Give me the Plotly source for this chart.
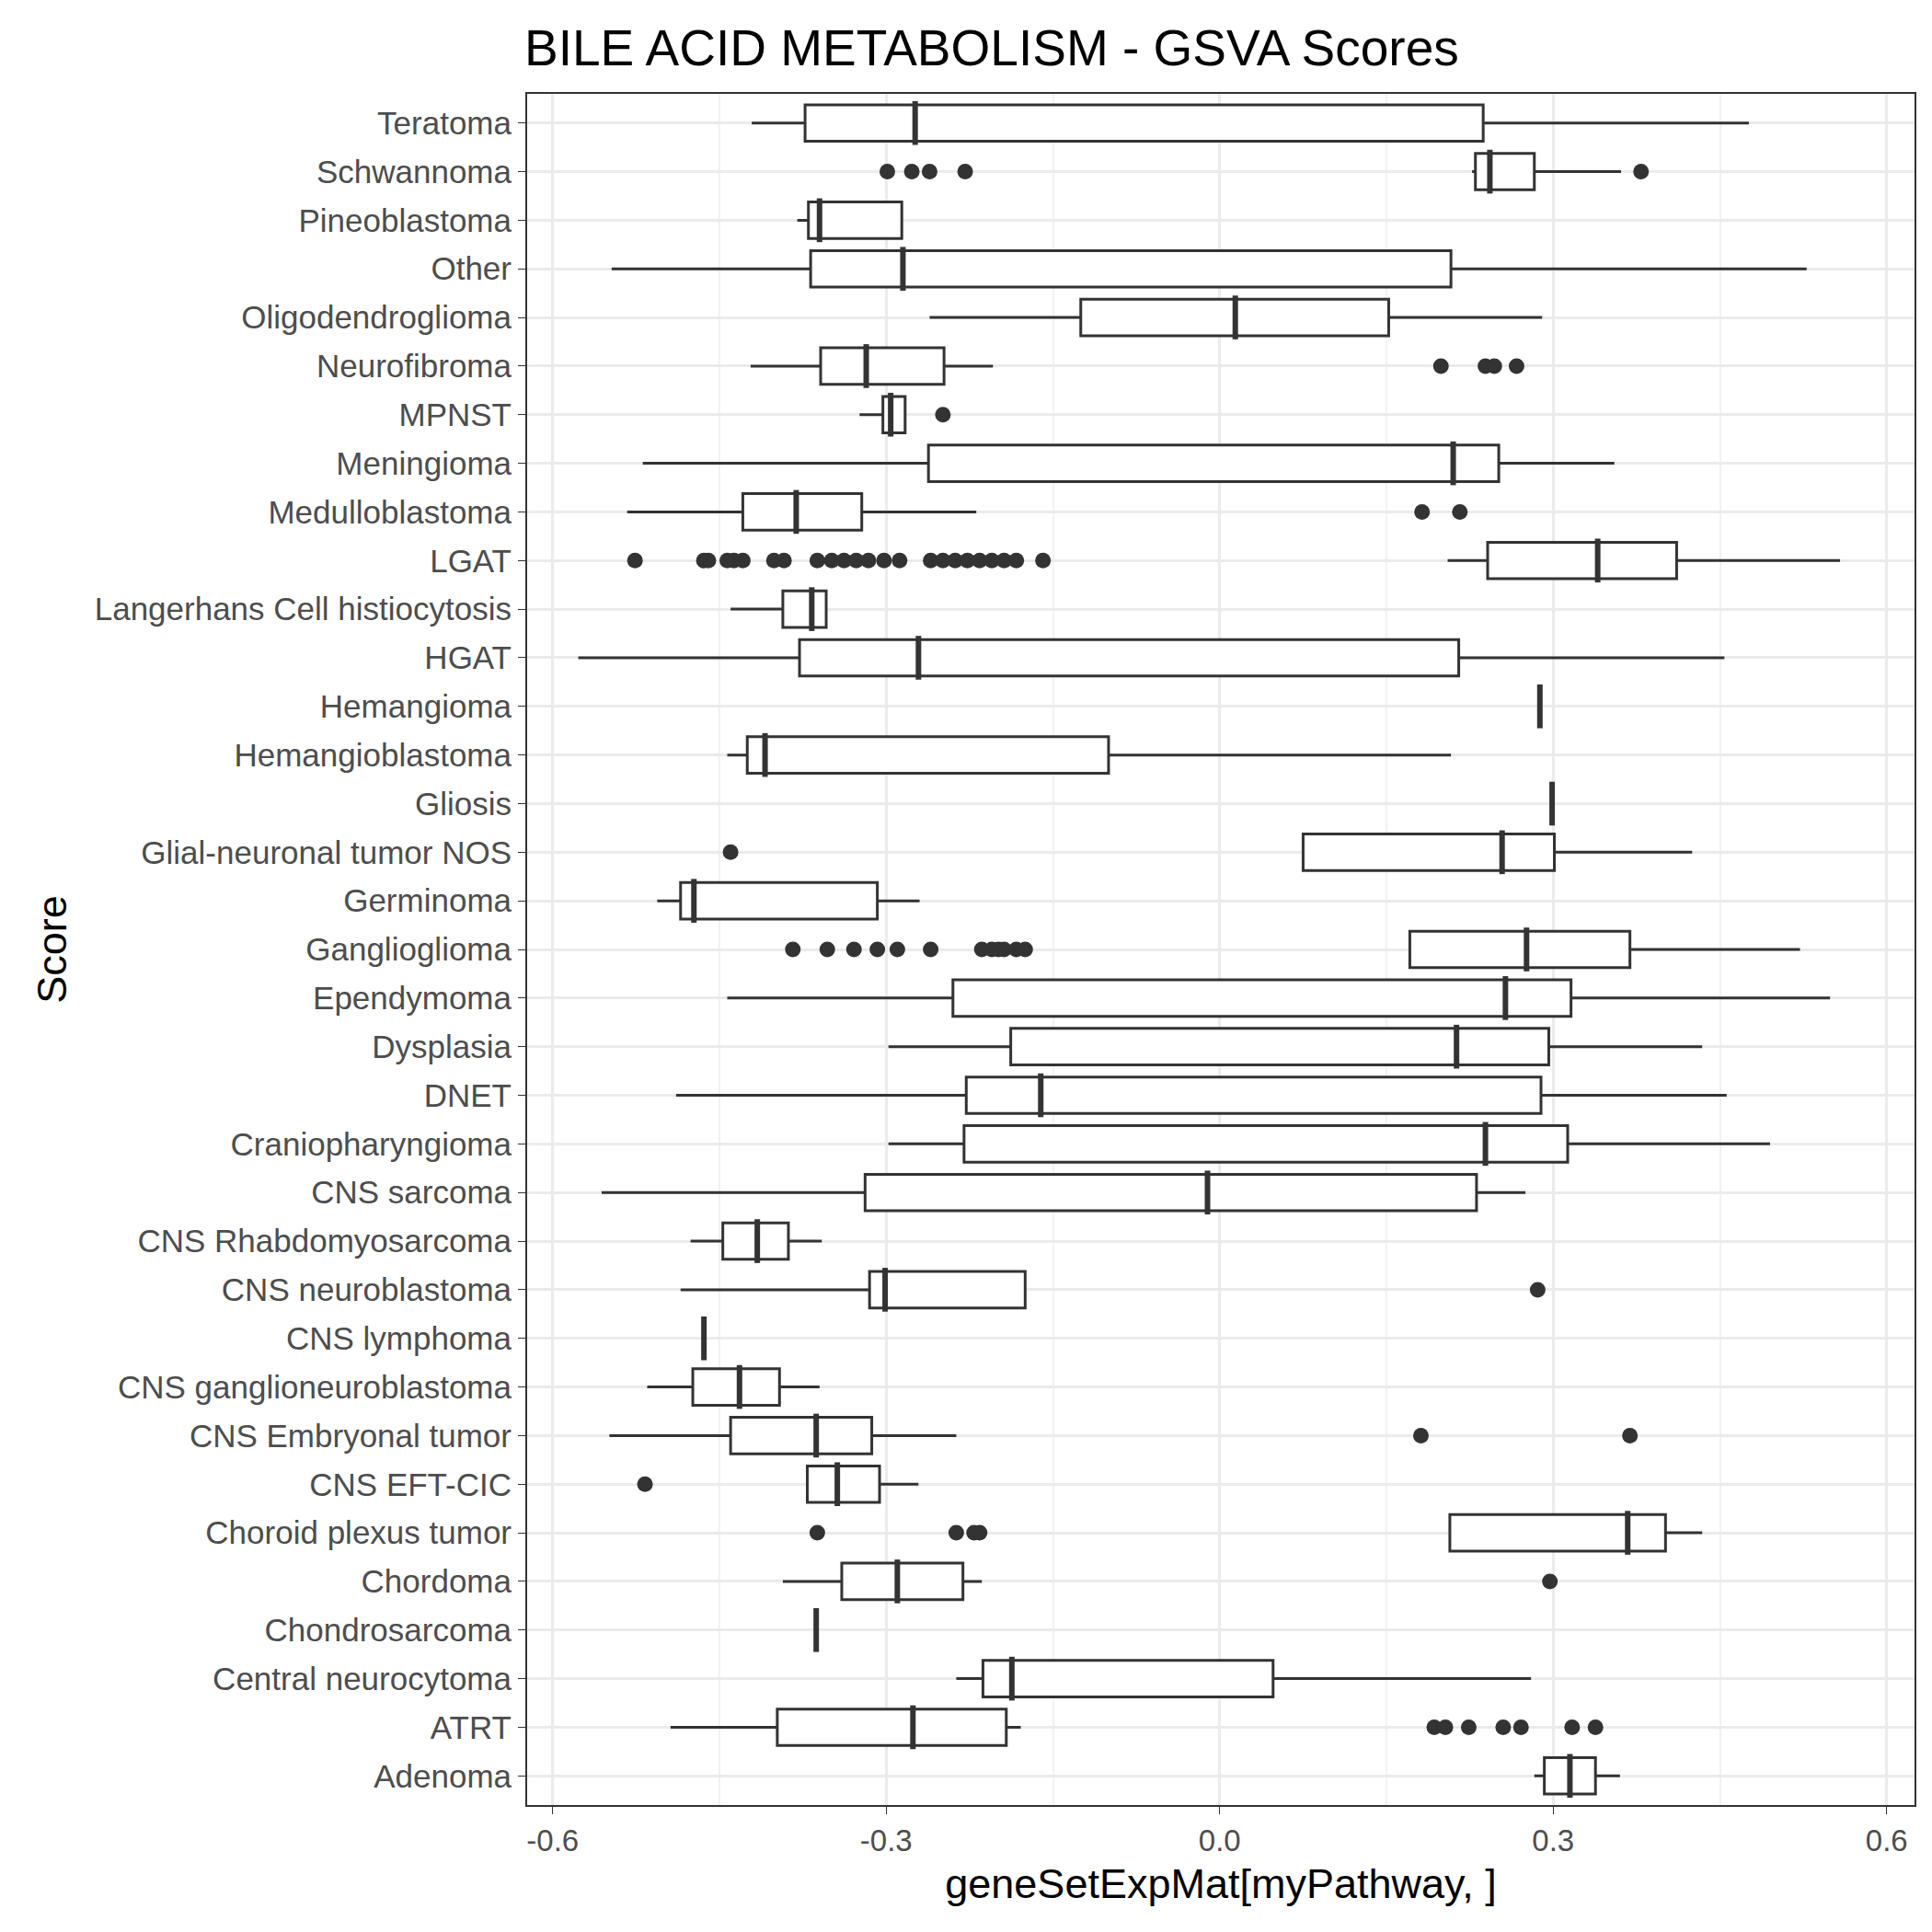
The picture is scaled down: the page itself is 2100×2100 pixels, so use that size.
import plotly.graph_objects as go

categories = [
    "Teratoma", "Schwannoma", "Pineoblastoma", "Other", "Oligodendroglioma",
    "Neurofibroma", "MPNST", "Meningioma", "Medulloblastoma", "LGAT",
    "Langerhans Cell histiocytosis", "HGAT", "Hemangioma", "Hemangioblastoma",
    "Gliosis", "Glial-neuronal tumor NOS", "Germinoma", "Ganglioglioma",
    "Ependymoma", "Dysplasia", "DNET", "Craniopharyngioma", "CNS sarcoma",
    "CNS Rhabdomyosarcoma", "CNS neuroblastoma", "CNS lymphoma",
    "CNS ganglioneuroblastoma", "CNS Embryonal tumor", "CNS EFT-CIC",
    "Choroid plexus tumor", "Chordoma", "Chondrosarcoma", "Central neurocytoma",
    "ATRT", "Adenoma",
]
lower = [-0.421, 0.227, -0.380, -0.547, -0.261, -0.422, -0.324, -0.519, -0.533, 0.205,
         -0.440, -0.577, 0.288, -0.443, 0.299, 0.075, -0.506, 0.171, -0.443, -0.298,
         -0.489, -0.298, -0.556, -0.476, -0.485, -0.464, -0.515, -0.549, -0.371, 0.207,
         -0.393, -0.363, -0.237, -0.494, 0.283]
q1 = [-0.373, 0.230, -0.370, -0.368, -0.125, -0.359, -0.303, -0.262, -0.429, 0.241,
      -0.393, -0.378, 0.288, -0.425, 0.299, 0.075, -0.485, 0.171, -0.240, -0.188,
      -0.228, -0.230, -0.319, -0.447, -0.315, -0.464, -0.474, -0.440, -0.371, 0.207,
      -0.340, -0.363, -0.213, -0.398, 0.292]
median = [-0.274, 0.243, -0.360, -0.285, 0.014, -0.318, -0.296, 0.210, -0.381, 0.340,
          -0.367, -0.271, 0.288, -0.409, 0.299, 0.254, -0.473, 0.276, 0.257, 0.213,
          -0.161, 0.239, -0.011, -0.416, -0.301, -0.464, -0.432, -0.363, -0.344, 0.367,
          -0.290, -0.363, -0.187, -0.276, 0.315]
q3 = [0.237, 0.283, -0.286, 0.208, 0.152, -0.248, -0.283, 0.251, -0.322, 0.411,
      -0.354, 0.215, 0.288, -0.100, 0.299, 0.301, -0.308, 0.369, 0.316, 0.296,
      0.289, 0.313, 0.231, -0.388, -0.175, -0.464, -0.396, -0.313, -0.306, 0.401,
      -0.231, -0.363, 0.048, -0.192, 0.338]
upper = [0.476, 0.361, -0.286, 0.528, 0.290, -0.204, -0.283, 0.355, -0.219, 0.558,
         -0.354, 0.454, 0.288, 0.208, 0.299, 0.425, -0.270, 0.522, 0.549, 0.434,
         0.456, 0.495, 0.275, -0.358, -0.175, -0.464, -0.360, -0.237, -0.271, 0.434,
         -0.214, -0.363, 0.280, -0.179, 0.360]

outlier_cat = (
    ["Schwannoma"] * 5 + ["Neurofibroma"] * 4 + ["MPNST"] + ["Medulloblastoma"] * 2
    + ["LGAT"] * 24 + ["Glial-neuronal tumor NOS"] + ["Ganglioglioma"] * 12
    + ["CNS neuroblastoma"] + ["CNS Embryonal tumor"] * 2 + ["CNS EFT-CIC"]
    + ["Choroid plexus tumor"] * 4 + ["Chordoma"] + ["ATRT"] * 7
)
outlier_val = (
    [-0.299, -0.277, -0.261, -0.229, 0.379]
    + [0.199, 0.239, 0.247, 0.267]
    + [-0.249]
    + [0.182, 0.216]
    + [-0.526, -0.464, -0.460, -0.443, -0.437, -0.429, -0.401, -0.392, -0.362, -0.349,
       -0.338, -0.327, -0.316, -0.302, -0.288, -0.260, -0.249, -0.238, -0.227, -0.216,
       -0.205, -0.194, -0.183, -0.159]
    + [-0.440]
    + [-0.384, -0.353, -0.329, -0.308, -0.290, -0.260, -0.214, -0.205, -0.199, -0.194,
       -0.183, -0.175]
    + [0.286]
    + [0.181, 0.369]
    + [-0.517]
    + [-0.362, -0.237, -0.221, -0.216]
    + [0.297]
    + [0.193, 0.203, 0.224, 0.255, 0.271, 0.317, 0.338]
)

dark = "#333333"
fig = go.Figure()
fig.add_trace(go.Box(
    y=categories, q1=q1, median=median, q3=q3, lowerfence=lower, upperfence=upper,
    orientation="h", width=0.75, fillcolor="white", whiskerwidth=0,
    line=dict(color=dark, width=3), boxpoints=False, showlegend=False,
))
# thicker median bars, like ggplot
fig.add_trace(go.Scatter(
    x=median, y=categories, mode="markers", showlegend=False,
    marker=dict(symbol="line-ns", size=34, line=dict(color=dark, width=6)),
))
fig.add_trace(go.Scatter(
    x=outlier_val, y=outlier_cat, mode="markers", showlegend=False,
    marker=dict(color=dark, size=17),
))

fig.update_layout(
    width=2100, height=2100,
    plot_bgcolor="white", paper_bgcolor="white",
    font=dict(family="Liberation Sans, Arial, sans-serif", color="black"),
    title=dict(text="BILE ACID METABOLISM - GSVA Scores", x=562 / 2100, xanchor="left",
               y=0.979, yanchor="middle", font=dict(size=55, color="black")),
    margin=dict(l=565, r=27, t=94, b=146),
)
fig.update_xaxes(
    range=[-0.623, 0.625], tickvals=[-0.6, -0.3, 0.0, 0.3, 0.6],
    ticktext=["-0.6", "-0.3", "0.0", "0.3", "0.6"],
    tickfont=dict(size=33, color="#4d4d4d"), ticks="outside", ticklen=8, tickcolor=dark,
    showgrid=True, gridcolor="#EBEBEB", gridwidth=2.5,
    minor=dict(tickvals=[-0.45, -0.15, 0.15, 0.45], showgrid=True, gridcolor="#F2F2F2", gridwidth=1.5),
    showline=True, linecolor=dark, linewidth=2, mirror=True, zeroline=False,
    title=dict(text="geneSetExpMat[myPathway, ]", font=dict(size=45), standoff=14),
)
fig.update_yaxes(
    categoryorder="array", categoryarray=categories[::-1], range=[-0.6, len(categories) - 0.4],
    tickfont=dict(size=35, color="#4d4d4d"), ticks="outside", ticklen=8, tickcolor=dark,
    showgrid=True, gridcolor="#EBEBEB", gridwidth=2.5,
    showline=True, linecolor=dark, linewidth=2, mirror=True, zeroline=False,
    title=dict(text="Score", font=dict(size=45), standoff=16),
)
fig.write_html("out.html")
